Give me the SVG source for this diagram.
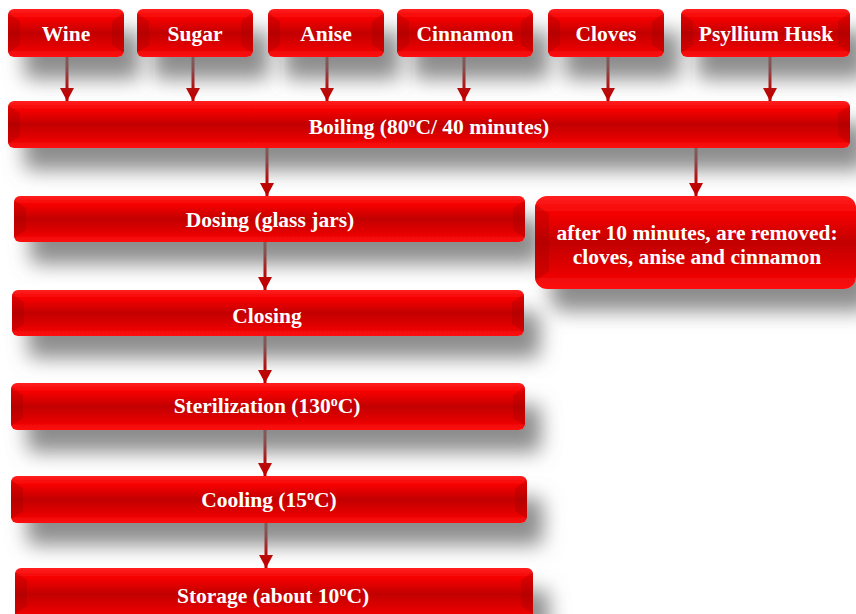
<svg xmlns="http://www.w3.org/2000/svg" width="856" height="614" viewBox="0 0 856 614">
<style>
.box{fill:url(#g);filter:url(#sh);}
.bev{fill:#9a0000;opacity:0.3;}
.t{fill:#fff;font-family:"Liberation Serif","Times New Roman",serif;font-weight:bold;font-size:21.5px;text-anchor:middle;}
.c{stroke:#c00000;stroke-width:3;fill:none;marker-end:url(#ah);}
</style>
<defs>
<linearGradient id="g" x1="0" y1="0" x2="0" y2="1">
<stop offset="0" stop-color="#ff2020"/>
<stop offset="0.2" stop-color="#f40000"/>
<stop offset="0.5" stop-color="#c20000"/>
<stop offset="0.8" stop-color="#e40000"/>
<stop offset="1" stop-color="#ff1010"/>
</linearGradient>
<filter id="sh" x="-10%" y="-40%" width="135%" height="230%">
<feDropShadow dx="16" dy="22" stdDeviation="10" flood-color="#707070" flood-opacity="0.8"/>
</filter>
<marker id="ah" markerUnits="userSpaceOnUse" markerWidth="14" markerHeight="14" viewBox="0 0 14 14" refX="13" refY="7" orient="auto">
<path d="M0,0 L13,7 L0,14 Z" fill="#c00000"/>
</marker>
</defs>
<rect width="856" height="614" fill="#fff"/>
<g id="connectors">
<line class="c" x1="67" y1="57" x2="67" y2="101"/>
<line class="c" x1="193" y1="57" x2="193" y2="101"/>
<line class="c" x1="327" y1="57" x2="327" y2="101"/>
<line class="c" x1="464" y1="57" x2="464" y2="101"/>
<line class="c" x1="608" y1="57" x2="608" y2="101"/>
<line class="c" x1="770" y1="57" x2="770" y2="101"/>
<line class="c" x1="267" y1="148" x2="267" y2="196"/>
<line class="c" x1="696" y1="148" x2="696" y2="196"/>
<line class="c" x1="265" y1="242" x2="265" y2="290"/>
<line class="c" x1="265" y1="336" x2="265" y2="383"/>
<line class="c" x1="265" y1="430" x2="265" y2="476"/>
<line class="c" x1="266" y1="523" x2="266" y2="568"/>
</g>
<g id="wine"><rect class="box" x="8" y="9" width="116" height="48" rx="6"/><path class="bev" d="M8,13 L20,21 L20,45 L8,53 Z M124,13 L112,21 L112,45 L124,53 Z"/><text class="t" x="66" y="41">Wine</text></g>
<g id="sugar"><rect class="box" x="137" y="9" width="116" height="48" rx="6"/><path class="bev" d="M137,13 L149,21 L149,45 L137,53 Z M253,13 L241,21 L241,45 L253,53 Z"/><text class="t" x="195" y="41">Sugar</text></g>
<g id="anise"><rect class="box" x="268" y="9" width="116" height="48" rx="6"/><path class="bev" d="M268,13 L280,21 L280,45 L268,53 Z M384,13 L372,21 L372,45 L384,53 Z"/><text class="t" x="326" y="41">Anise</text></g>
<g id="cinnamon"><rect class="box" x="397" y="9" width="136" height="48" rx="6"/><path class="bev" d="M397,13 L409,21 L409,45 L397,53 Z M533,13 L521,21 L521,45 L533,53 Z"/><text class="t" x="465" y="41">Cinnamon</text></g>
<g id="cloves"><rect class="box" x="548" y="9" width="116" height="48" rx="6"/><path class="bev" d="M548,13 L560,21 L560,45 L548,53 Z M664,13 L652,21 L652,45 L664,53 Z"/><text class="t" x="606" y="41">Cloves</text></g>
<g id="psyllium"><rect class="box" x="681" y="9" width="169" height="48" rx="6"/><path class="bev" d="M681,13 L693,21 L693,45 L681,53 Z M850,13 L838,21 L838,45 L850,53 Z"/><text class="t" x="766" y="41">Psyllium Husk</text></g>
<g id="boiling"><rect class="box" x="8" y="101" width="842" height="47" rx="6"/><path class="bev" d="M8,105 L20,113 L20,136 L8,144 Z M850,105 L838,113 L838,136 L850,144 Z"/><text class="t" x="429" y="134">Boiling (80<tspan font-size="14" dy="-7">o</tspan><tspan dy="7">C/ 40 minutes)</tspan></text></g>
<g id="dosing"><rect class="box" x="14" y="196" width="511" height="46" rx="6"/><path class="bev" d="M14,200 L26,208 L26,230 L14,238 Z M525,200 L513,208 L513,230 L525,238 Z"/><text class="t" x="270" y="227">Dosing (glass jars)</text></g>
<g id="removed"><rect class="box" x="535" y="196" width="321" height="93" rx="12"/><path class="bev" d="M535,204 L549,214 L549,271 L535,281 Z"/><text class="t" x="697" y="240">after 10 minutes, are removed:</text><text class="t" x="697" y="264">cloves, anise and cinnamon</text></g>
<g id="closing"><rect class="box" x="12" y="290" width="512" height="46" rx="6"/><path class="bev" d="M12,294 L24,302 L24,324 L12,332 Z M524,294 L512,302 L512,324 L524,332 Z"/><text class="t" x="267" y="323">Closing</text></g>
<g id="sterilization"><rect class="box" x="11" y="383" width="514" height="47" rx="6"/><path class="bev" d="M11,387 L23,395 L23,418 L11,426 Z M525,387 L513,395 L513,418 L525,426 Z"/><text class="t" x="267" y="413">Sterilization  (130<tspan font-size="14" dy="-7">o</tspan><tspan dy="7">C)</tspan></text></g>
<g id="cooling"><rect class="box" x="11" y="476" width="516" height="47" rx="6"/><path class="bev" d="M11,480 L23,488 L23,511 L11,519 Z M527,480 L515,488 L515,511 L527,519 Z"/><text class="t" x="269" y="507">Cooling (15<tspan font-size="14" dy="-7">o</tspan><tspan dy="7">C)</tspan></text></g>
<g id="storage"><rect class="box" x="15" y="568" width="518" height="52" rx="6"/><path class="bev" d="M15,572 L27,580 L27,606 L15,614 Z M533,572 L521,580 L521,606 L533,614 Z"/><text class="t" x="273" y="603">Storage (about 10<tspan font-size="14" dy="-7">o</tspan><tspan dy="7">C)</tspan></text></g>
</svg>
